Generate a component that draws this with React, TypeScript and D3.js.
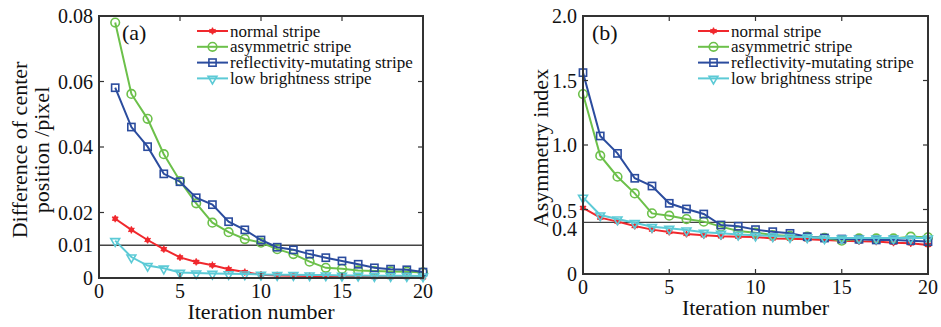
import React from "react";
import * as d3 from "d3";

// iteration numbers
const iterA = [1, 2, 3, 4, 5, 6, 7, 8, 9, 10, 11, 12, 13, 14, 15, 16, 17, 18, 19, 20];
const iterB = [0, 1, 2, 3, 4, 5, 6, 7, 8, 9, 10, 11, 12, 13, 14, 15, 16, 17, 18, 19, 20];

// (a) difference of center position /pixel
const normalA = [0.0181, 0.0147, 0.0116, 0.0088, 0.0063, 0.0049, 0.0039, 0.0027, 0.0018, 0.001, 0.0008, 0.0007, 0.0006, 0.0005, 0.0004, 0.0004, 0.0003, 0.0003, 0.0003, 0.0002];
const asymA = [0.078, 0.0562, 0.0486, 0.0378, 0.0296, 0.0228, 0.0169, 0.014, 0.0119, 0.0108, 0.0088, 0.0073, 0.005, 0.0031, 0.0028, 0.0023, 0.0021, 0.002, 0.0019, 0.0017];
const reflA = [0.0581, 0.0461, 0.0401, 0.0318, 0.0294, 0.0245, 0.0224, 0.0172, 0.0147, 0.0116, 0.0094, 0.0086, 0.0073, 0.0062, 0.0052, 0.0042, 0.0031, 0.0027, 0.0025, 0.0018];
const lowA = [0.0114, 0.0064, 0.0038, 0.003, 0.0017, 0.0015, 0.0014, 0.0013, 0.0012, 0.0011, 0.001, 0.001, 0.0009, 0.0009, 0.0008, 0.0008, 0.0007, 0.0007, 0.0007, 0.0006];

// (b) asymmetry index
const normalB = [0.512, 0.437, 0.406, 0.372, 0.344, 0.326, 0.31, 0.3, 0.292, 0.289, 0.287, 0.276, 0.274, 0.269, 0.264, 0.258, 0.253, 0.251, 0.243, 0.238, 0.225];
const asymB = [1.395, 0.917, 0.754, 0.625, 0.47, 0.452, 0.426, 0.406, 0.367, 0.333, 0.32, 0.302, 0.295, 0.289, 0.281, 0.258, 0.276, 0.276, 0.276, 0.289, 0.284];
const reflB = [1.561, 1.07, 0.935, 0.742, 0.682, 0.548, 0.504, 0.465, 0.38, 0.37, 0.344, 0.328, 0.315, 0.289, 0.279, 0.271, 0.269, 0.264, 0.264, 0.258, 0.251];
const lowB = [0.594, 0.457, 0.426, 0.398, 0.367, 0.354, 0.341, 0.323, 0.315, 0.307, 0.3, 0.295, 0.289, 0.287, 0.279, 0.279, 0.279, 0.279, 0.279, 0.279, 0.279];

const seriesNames = ["normal stripe", "asymmetric stripe", "reflectivity-mutating stripe", "low brightness stripe"];
const seriesColors = ["#f0282d", "#6cc04a", "#2b4c9e", "#5ccad6"];
const seriesShapes = ["star", "circle", "square", "triangle"];

const xTicks = [0, 5, 10, 15, 20];
const yTicksA = [0, 0.01, 0.02, 0.04, 0.06, 0.08];
const yLabelsA = ["0", "0.01", "0.02", "0.04", "0.06", "0.08"];
const yTicksB = [0, 0.4, 0.5, 1.0, 1.5, 2.0];
const yLabelsB = ["0", "0.4", "0.5", "1.0", "1.5", "2.0"];

const AXIS = "#333";

function Marker({ shape, cx, cy, color }: { shape: string; cx: number; cy: number; color: string }) {
  if (shape === "star") {
    return (
      <g transform={`translate(${cx},${cy})`}>
        <circle r={2.6} fill={color} />
        <path d={d3.symbol(d3.symbolAsterisk, 36)() || ""} stroke={color} strokeWidth={1.3} fill="none" />
      </g>
    );
  }
  if (shape === "circle") {
    return <circle cx={cx} cy={cy} r={4.3} fill="none" stroke={color} strokeWidth={1.6} />;
  }
  if (shape === "square") {
    return <rect x={cx - 3.6} y={cy - 3.6} width={7.2} height={7.2} fill="none" stroke={color} strokeWidth={1.6} />;
  }
  return (
    <path
      transform={`translate(${cx},${cy + 0.5}) rotate(180)`}
      d={d3.symbol(d3.symbolTriangle, 34)() || ""}
      fill="none"
      stroke={color}
      strokeWidth={1.6}
    />
  );
}

type PanelProps = {
  box: [number, number, number, number];
  xs: number[];
  data: number[][];
  xDomain: [number, number];
  yDomain: [number, number];
  yTicks: number[];
  yLabels: string[];
  yMinor: number[];
  yLabelShift: Record<string, number>;
  refValue: number;
  tag: string;
  tagDx: number;
  legendX: number;
  titleLines: { text: string; x: number }[];
};

function Panel(p: PanelProps) {
  const [left, top, right, bottom] = p.box;
  const x = d3.scaleLinear().domain(p.xDomain).range([left, right]);
  const y = d3.scaleLinear().domain(p.yDomain).range([bottom, top]);
  const line = d3
    .line<[number, number]>()
    .x((d) => x(d[0]))
    .y((d) => y(d[1]));
  const tl = 5;

  return (
    <g>
      <line x1={left} x2={right} y1={y(p.refValue)} y2={y(p.refValue)} stroke="#444" strokeWidth={1.4} />

      {p.data.map((vals, i) => {
        const pts = p.xs.map((xv, j) => [xv, vals[j]] as [number, number]);
        return (
          <g key={i}>
            <path d={line(pts) || ""} fill="none" stroke={seriesColors[i]} strokeWidth={2} />
            {pts.map((d, j) => (
              <Marker key={j} shape={seriesShapes[i]} cx={x(d[0])} cy={y(d[1])} color={seriesColors[i]} />
            ))}
          </g>
        );
      })}

      <rect x={left} y={top} width={right - left} height={bottom - top} fill="none" stroke={AXIS} strokeWidth={2} />

      {xTicks.map((t) => (
        <g key={t}>
          <line x1={x(t)} x2={x(t)} y1={bottom} y2={bottom - tl} stroke={AXIS} strokeWidth={1.2} />
          <line x1={x(t)} x2={x(t)} y1={top} y2={top + tl} stroke={AXIS} strokeWidth={1.2} />
          <text className="ser" x={x(t)} y={bottom + 20} fontSize={20} textAnchor="middle">
            {t}
          </text>
        </g>
      ))}

      {p.yMinor.map((t) => (
        <g key={t}>
          <line x1={left} x2={left + tl} y1={y(t)} y2={y(t)} stroke={AXIS} strokeWidth={1.2} />
          <line x1={right} x2={right - tl} y1={y(t)} y2={y(t)} stroke={AXIS} strokeWidth={1.2} />
        </g>
      ))}
      {p.yTicks.map((t, i) => (
        <text
          className="ser"
          key={t}
          x={left - 6}
          y={y(t) + (p.yLabelShift[p.yLabels[i]] || 0) + 7}
          fontSize={20}
          textAnchor="end"
        >
          {p.yLabels[i]}
        </text>
      ))}

      <text className="ser" x={(left + right) / 2} y={bottom + 41} fontSize={22} textAnchor="middle">
        Iteration number
      </text>
      {p.titleLines.map((tline, i) => (
        <text
          className="ser"
          key={i}
          transform={`translate(${tline.x + 7},${(top + bottom) / 2 + 3}) rotate(-90)`}
          fontSize={22}
          textAnchor="middle"
        >
          {tline.text}
        </text>
      ))}

      <text className="ser" x={left + p.tagDx} y={top + 24} fontSize={22}>
        {p.tag}
      </text>

      {seriesNames.map((name, i) => {
        const cy = top + 15 + i * 15.8;
        return (
          <g key={name}>
            <line x1={p.legendX} x2={p.legendX + 31} y1={cy} y2={cy} stroke={seriesColors[i]} strokeWidth={2} />
            <Marker shape={seriesShapes[i]} cx={p.legendX + 15.5} cy={cy} color={seriesColors[i]} />
            <text className="ser" x={p.legendX + 33} y={cy + 5.5} fontSize={17}>
              {name}
            </text>
          </g>
        );
      })}
    </g>
  );
}

export default function App() {
  return (
    <div style={{ position: "absolute", left: 0, top: 0 }}>
      <svg width={941} height={327} style={{ display: "block", background: "#fff" }} fontFamily="Liberation Serif">
        <style>{`.ser { font-family: "Liberation Serif", "Times New Roman", Tinos, serif; fill: #111; }`}</style>
        <Panel
          box={[99, 16, 423, 278]}
          xs={iterA}
          data={[normalA, asymA, reflA, lowA]}
          xDomain={[0, 20]}
          yDomain={[0, 0.08]}
          yTicks={yTicksA}
          yLabels={yLabelsA}
          yMinor={[0.02, 0.04, 0.06]}
          yLabelShift={{}}
          refValue={0.01}
          tag="(a)"
          tagDx={23}
          legendX={197}
          titleLines={[
            { text: "Difference of center", x: 20 },
            { text: "position /pixel", x: 42 },
          ]}
        />
        <Panel
          box={[583, 16, 928, 274]}
          xs={iterB}
          data={[normalB, asymB, reflB, lowB]}
          xDomain={[0, 20]}
          yDomain={[0, 2]}
          yTicks={yTicksB}
          yLabels={yLabelsB}
          yMinor={[0.5, 1.0, 1.5]}
          yLabelShift={{ "0.4": 7, "0.5": 1 }}
          refValue={0.4}
          tag="(b)"
          tagDx={9}
          legendX={698}
          titleLines={[{ text: "Asymmetry index", x: 541 }]}
        />
      </svg>
    </div>
  );
}
